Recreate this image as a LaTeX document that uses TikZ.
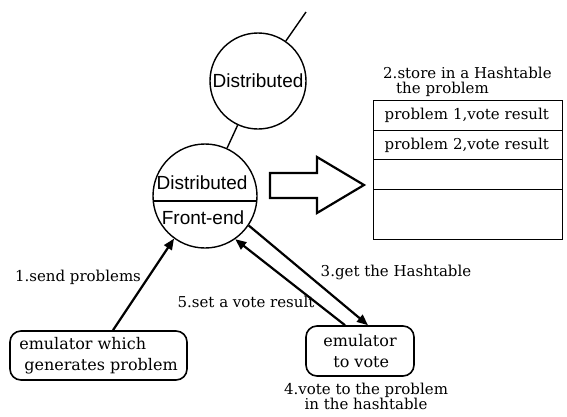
\documentclass[tikz,border=0pt]{standalone}
\usepackage{fontspec}
\setmainfont{DejaVu Serif}
\newfontfamily\sansf{Liberation Sans}
\usetikzlibrary{arrows.meta,calc}
\begin{document}
\begin{tikzpicture}[x=1pt,y=-1pt,
  lbl/.style={font=\fontsize{15}{15}\selectfont, inner sep=0pt},
  circ/.style={draw, circle, line width=1.4pt, inner sep=0pt, font=\sansf\fontsize{19}{20}\selectfont},
  rbox/.style={draw, rounded corners=11pt, line width=1.6pt, align=left, inner sep=0pt, font=\fontsize{16}{21}\selectfont},
  row/.style={draw, line width=1.4pt, minimum width=189pt, inner sep=0pt, anchor=north west, font=\fontsize{15}{15}\selectfont},
  conn/.style={line width=2.2pt, -{Triangle[length=11pt,width=9pt]}},
  plain/.style={line width=1.4pt}]
\useasboundingbox (0,0) rectangle (567,416);

% circles
\node[circ, minimum size=96pt] (top) at (258,81) {Distributed};
\node[circ, minimum size=104pt] (fe) at (205,196) {};
\node[font=\sansf\fontsize{19}{20}\selectfont, inner sep=0pt] (fet) at (202,183) {Distributed};
\node[font=\sansf\fontsize{19}{20}\selectfont, inner sep=0pt] (feb) at (203,218) {Front-end};
\draw[line width=2pt] ($(fe.center)+(-51.8,5)$) -- ($(fe.center)+(51.8,5)$);

\coordinate (topend) at (306,12);
\draw[plain] (top) -- (topend);
\draw[plain] (top) -- (fe);

% big arrow
\draw[line width=2.2pt, line join=miter] (270,173) coordinate (ba) -- (317,173) -- (317,157) -- (364,185) -- (317,213) -- (317,198) -- (270,198) -- cycle;

% table
\node[lbl, anchor=west, align=left] (storelbl) at (383,82) {2.store in a Hashtable\\\hspace*{13pt}the problem};
\node[row, minimum height=29.5pt, text width=167pt, align=left] (r1) at (373,100) {problem 1,vote result};
\node[row, minimum height=29.5pt, text width=167pt, align=left] (r2) at (373,129.5) {problem 2,vote result};
\node[row, minimum height=29.5pt] (r3) at (373,159) {};
\node[row, minimum height=50pt] (r4) at (373,188.5) {};

% boxes
\node[rbox, minimum width=177pt, minimum height=49pt] (gen) at (98.5,355.5) {emulator which\\\hspace*{5pt}generates problem};
\node[rbox, minimum width=108pt, minimum height=50pt] (vote) at (360,351) {emulator\\\hspace*{10pt}to vote};

% connectors
\draw[conn] ($(gen.north)+(14.5,0)$) -- (fe.234);
\draw[conn] (fe.326) -- ($(vote.north)+(8,0)$);
\draw[conn] ($(vote.north)+(-15,0)$) -- (fe.305);

% labels
\node[lbl] (l1) at (78,277) {1.send problems};
\node[lbl] (l3) at (396,272) {3.get the Hashtable};
\node[lbl] (l5) at (246,302) {5.set a vote result};
\node[lbl, align=center] (l4) at (366,396) {4.vote to the problem\\in the hashtable};
\end{tikzpicture}
\end{document}
